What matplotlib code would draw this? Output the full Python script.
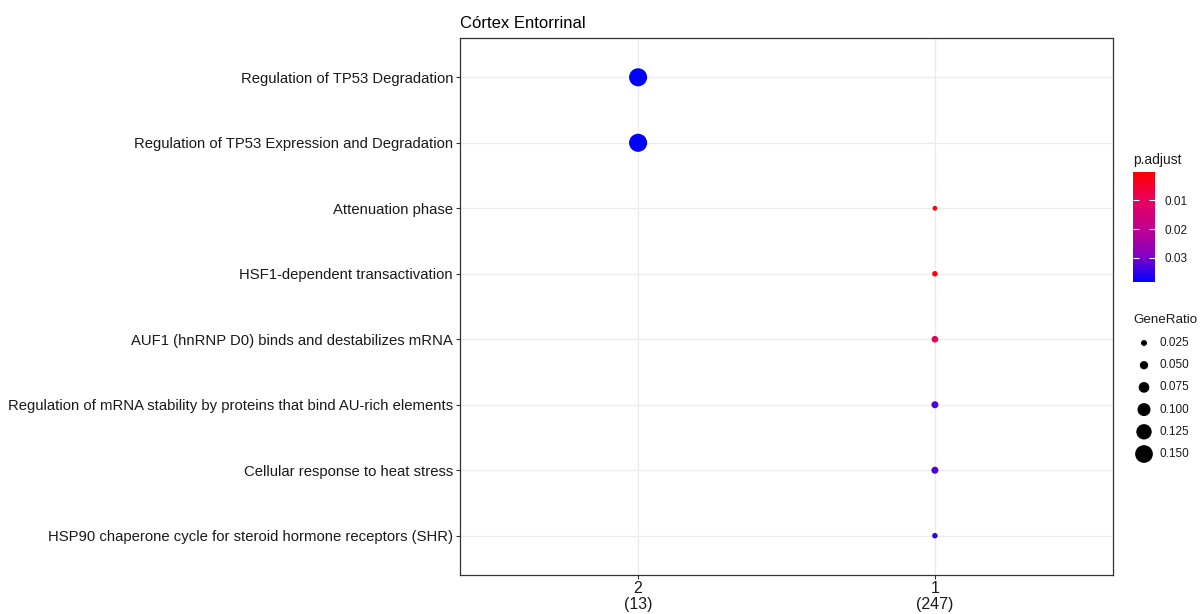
import matplotlib
matplotlib.use("Agg")
import matplotlib.pyplot as plt
from matplotlib.colors import LinearSegmentedColormap, Normalize
from matplotlib.cm import ScalarMappable
import numpy as np

plt.rcParams['font.family'] = ['Liberation Sans', 'DejaVu Sans']

# Reactome terms, top to bottom
terms = [
    "Regulation of TP53 Degradation",
    "Regulation of TP53 Expression and Degradation",
    "Attenuation phase",
    "HSF1-dependent transactivation",
    "AUF1 (hnRNP D0) binds and destabilizes mRNA",
    "Regulation of mRNA stability by proteins that bind AU-rich elements",
    "Cellular response to heat stress",
    "HSP90 chaperone cycle for steroid hormone receptors (SHR)",
]
cluster_names = ["2", "1"]
cluster_sizes = [13, 247]
term_cluster = [0, 0, 1, 1, 1, 1, 1, 1]
gene_counts = [2, 2, 3, 5, 8, 9, 9, 5]
p_adjust = [0.0385, 0.0385, 0.0001, 0.0010, 0.0095, 0.0330, 0.0330, 0.0355]

size_breaks = [0.025, 0.050, 0.075, 0.100, 0.125, 0.150]
color_breaks = [0.01, 0.02, 0.03]

gene_ratio = [g / cluster_sizes[c] for g, c in zip(gene_counts, term_cluster)]

# red (low p) -> blue (high p), roughly like ggplot's Lab gradient
cmap = LinearSegmentedColormap.from_list(
    "padj", [(0.0, "#FF0000"), (0.25, "#E8005E"), (0.5, "#C4008C"),
             (0.75, "#8A00C2"), (1.0, "#0000FF")])
norm = Normalize(vmin=min(p_adjust), vmax=max(p_adjust))


def ratio_to_s(r):
    # diameter grows linearly with the ratio (in pixels at dpi=100), s is in pt^2
    d_px = 3.6 + 94 * np.asarray(r)
    return (d_px * 0.72) ** 2


fig = plt.figure(figsize=(12, 6.14), dpi=100)
ax = fig.add_axes([460 / 1200, 39 / 614, 653 / 1200, 537 / 614])

ypos = np.arange(len(terms))
xpos = np.array(term_cluster)

ax.set_axisbelow(True)
ax.grid(True, color="#EBEBEB", linewidth=0.9)
ax.scatter(xpos, ypos, s=ratio_to_s(gene_ratio), c=p_adjust, cmap=cmap,
           norm=norm, linewidths=0, zorder=3)

ax.set_xlim(-0.6, 1.6)
ax.set_ylim(len(terms) - 0.4, -0.6)
ax.set_xticks(range(len(cluster_names)))
ax.set_xticklabels([f"{n}\n({s})" for n, s in zip(cluster_names, cluster_sizes)],
                   fontsize=11.5, color="#1A1A1A", linespacing=1.1)
ax.set_yticks(ypos)
ax.set_yticklabels(terms, fontsize=10.7, color="#1A1A1A")
ax.tick_params(length=3, width=0.8, color="#333333", pad=2)
ax.tick_params(axis="x", pad=1)
for sp in ax.spines.values():
    sp.set_color("#333333")
    sp.set_linewidth(0.9)

ax.set_title("Córtex Entorrinal", loc="left", fontsize=12, color="black", pad=7)

# p.adjust colour bar
cax = fig.add_axes([1133 / 1200, (614 - 282) / 614, 22 / 1200, 110 / 614])
sm = ScalarMappable(norm=norm, cmap=cmap)
cb = fig.colorbar(sm, cax=cax)
cb.outline.set_visible(False)
cax.invert_yaxis()
cb.set_ticks(color_breaks)
cb.set_ticklabels([f"{v:.2f}" for v in color_breaks])
cax.tick_params(axis="y", direction="in", length=4, width=0.8, color="white",
                left=True, right=True, labelsize=8.5, labelcolor="#1A1A1A", pad=7)
fig.text(1133 / 1200, 1 - 160 / 614, "p.adjust", fontsize=10, color="#1A1A1A",
         va="center", ha="left")

# GeneRatio size legend
fig.text(1133 / 1200, 1 - 320 / 614, "GeneRatio", fontsize=9.6, color="#1A1A1A",
         va="center", ha="left")
lax = fig.add_axes([1130 / 1200, (614 - 470) / 614, 70 / 1200, 140 / 614])
lax.set_xlim(0, 70)
lax.set_ylim(140, 0)
lax.axis("off")
rows = 13 + 22.2 * np.arange(len(size_breaks))
lax.scatter(np.full(len(size_breaks), 14), rows, s=ratio_to_s(size_breaks),
            color="black", linewidths=0, clip_on=False)
for yy, b in zip(rows, size_breaks):
    lax.text(30, yy, f"{b:.3f}", fontsize=8.5, color="#1A1A1A", va="center")

fig.savefig("out.png", dpi=100, facecolor="white")
